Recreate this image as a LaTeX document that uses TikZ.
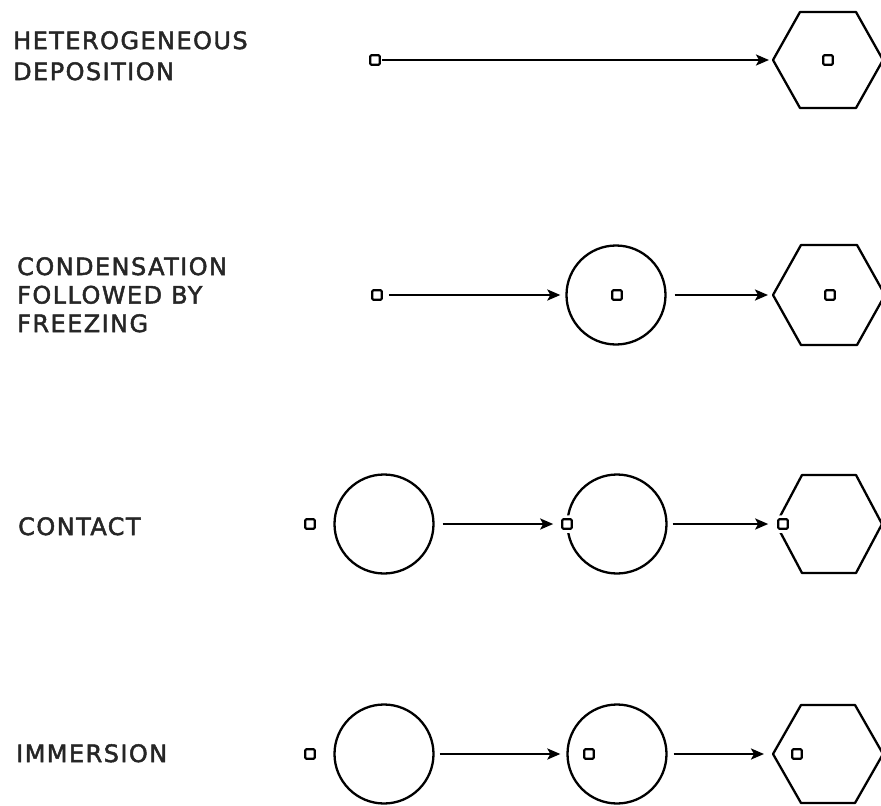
\documentclass[tikz,border=0pt]{standalone}
\usepackage{fontspec}
\newfontfamily\lettering[LetterSpace=6,FakeBold=2]{DejaVu Sans}
\usetikzlibrary{arrows.meta}
\newcommand\hexa[6]{% name, cx, cy, rx, half-height, half top width
  \draw[hexline] (#2-#4,#3) -- (#2-#6,#3-#5) -- (#2+#6,#3-#5) -- (#2+#4,#3)
     -- (#2+#6,#3+#5) -- (#2-#6,#3+#5) -- cycle;
  \coordinate (#1) at (#2-#4,#3);}
\begin{document}
\begin{tikzpicture}[x=1pt,y=-1pt,
  lab/.style={anchor=north west, inner sep=0pt, align=left, text=black!85},
  labfont/.style={font=\lettering\fontsize{24}{#1}\selectfont},
  sq/.style={draw, line width=2.1pt, minimum size=9.5pt, inner sep=0pt, rounded corners=1.2pt, fill=white},
  sqgap/.style={sq, preaction={draw=white, line width=8pt}},
  drop/.style={draw, circle, line width=2.3pt, minimum size=99pt, inner sep=0pt},
  hexline/.style={line width=2.3pt, line join=round},
  arr/.style={line width=2.4pt, -{Stealth[length=13pt,width=11pt,inset=3pt]}}]
\useasboundingbox (0,0) rectangle (881,806);
\clip (0,0) rectangle (881,806);

% labels
\node[lab, labfont=31] (t1) at (13,31) {HETEROGENEOUS\\DEPOSITION};
\node[lab, labfont=28.5] (t2) at (17,257) {CONDENSATION\\FOLLOWED BY\\FREEZING};
\node[lab, labfont=30] (t3) at (18,517) {CONTACT};
\node[lab, labfont=30] (t4) at (16,744) {IMMERSION};

% row 1: heterogeneous deposition
\node[sq] (a1) at (375,60) {};
\hexa{a2w}{828}{60}{55}{48}{28}
\node[sq] (a3) at (828,60) {};
\draw[arr, shorten <=1pt, shorten >=4pt] (a1) -- (a2w);

% row 2: condensation followed by freezing
\node[sq] (b1) at (377,295) {};
\node[drop] (b2) at (616,295) {};
\node[sq] (b3) at (617,295) {};
\hexa{b4w}{829}{295}{56}{50}{28}
\node[sq] (b5) at (830,295) {};
\draw[arr, shorten <=6pt, shorten >=5pt] (b1) -- (b2);
\draw[arr, shorten <=8pt, shorten >=5pt] (b2) -- (b4w);

% row 3: contact
\node[sq] (c1) at (310,524) {};
\node[drop] (c2) at (384,524) {};
\node[drop] (c3) at (617,524) {};
\hexa{c4w}{829}{524}{53}{49}{27}
\node[sqgap] (c5) at (567,524) {};
\node[sqgap] (c6) at (783,524) {};
\draw[arr, shorten <=8pt, shorten >=8pt] (c2) -- (c5);
\draw[arr, shorten <=5pt, shorten >=9pt] (c3) -- (c6);

% row 4: immersion
\node[sq] (d1) at (310,754) {};
\node[drop] (d2) at (384,754) {};
\node[drop] (d3) at (617,754) {};
\node[sq] (d4) at (589,754) {};
\hexa{d5w}{828}{754}{55}{49}{27}
\node[sq] (d6) at (797,754) {};
\draw[arr, shorten <=5pt, shorten >=6pt] (d2) -- (d3);
\draw[arr, shorten <=6pt, shorten >=9pt] (d3) -- (d5w);
\end{tikzpicture}
\end{document}
